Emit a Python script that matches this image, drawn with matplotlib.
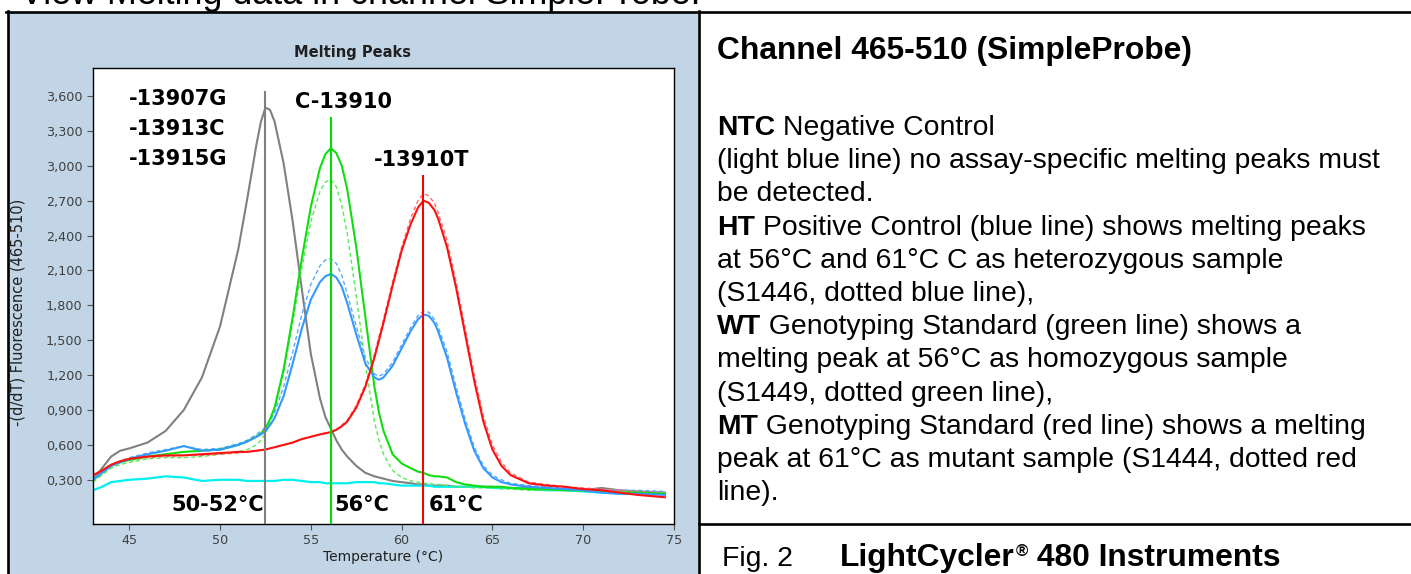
import matplotlib
matplotlib.use("Agg")
import matplotlib.pyplot as plt
from matplotlib.lines import Line2D
from matplotlib.patches import Rectangle
from matplotlib.ticker import FixedLocator, FuncFormatter

# ---------------- data ----------------
temps = [43.0, 43.5, 44.0, 44.5, 45.0, 46.0, 47.0, 48.0, 49.0, 50.0,
         51.0, 51.5, 52.0, 52.25, 52.5, 52.75, 53.0, 53.5, 54.0, 54.5,
         55.0, 55.5, 55.8, 56.1, 56.4, 56.7, 57.0, 57.5, 58.0, 58.5,
         58.75, 59.0, 59.5, 60.0, 60.5, 60.9, 61.2, 61.5, 61.8, 62.0,
         62.5, 63.0, 63.5, 64.0, 64.5, 65.0, 65.5, 66.0, 67.0, 68.0,
         69.0, 70.0, 71.0, 72.0, 73.0, 74.5]

gray_sample = [0.30, 0.40, 0.50, 0.55, 0.57, 0.62, 0.72, 0.90, 1.18, 1.62,
               2.28, 2.72, 3.18, 3.38, 3.50, 3.48, 3.38, 3.02, 2.52, 1.94,
               1.38, 1.00, 0.84, 0.74, 0.64, 0.56, 0.50, 0.42, 0.36, 0.33,
               0.32, 0.31, 0.29, 0.28, 0.27, 0.26, 0.26, 0.25, 0.25, 0.25,
               0.25, 0.24, 0.24, 0.24, 0.24, 0.24, 0.23, 0.23, 0.23, 0.22,
               0.22, 0.21, 0.23, 0.21, 0.20, 0.19]

wt_control = [0.30, 0.36, 0.42, 0.45, 0.47, 0.50, 0.52, 0.54, 0.55, 0.56,
              0.60, 0.63, 0.67, 0.70, 0.74, 0.82, 0.92, 1.25, 1.70, 2.20,
              2.65, 2.98, 3.10, 3.15, 3.11, 3.00, 2.80, 2.30, 1.70, 1.10,
              0.88, 0.72, 0.52, 0.44, 0.40, 0.37, 0.36, 0.34, 0.33, 0.33,
              0.32, 0.28, 0.26, 0.25, 0.24, 0.24, 0.24, 0.23, 0.22, 0.22,
              0.21, 0.21, 0.20, 0.19, 0.19, 0.18]

wt_sample = [0.28, 0.34, 0.40, 0.43, 0.45, 0.48, 0.49, 0.49, 0.50, 0.52,
             0.54, 0.56, 0.60, 0.64, 0.70, 0.79, 0.90, 1.22, 1.65, 2.12,
             2.52, 2.78, 2.86, 2.88, 2.82, 2.66, 2.42, 1.88, 1.30, 0.80,
             0.64, 0.52, 0.38, 0.32, 0.29, 0.28, 0.27, 0.27, 0.26, 0.26,
             0.25, 0.24, 0.24, 0.23, 0.23, 0.23, 0.22, 0.22, 0.21, 0.21,
             0.21, 0.20, 0.20, 0.20, 0.19, 0.19]

ht_control = [0.30, 0.36, 0.42, 0.45, 0.48, 0.52, 0.55, 0.59, 0.55, 0.56,
              0.60, 0.63, 0.67, 0.69, 0.72, 0.77, 0.83, 1.02, 1.30, 1.60,
              1.85, 2.00, 2.05, 2.07, 2.04, 1.96, 1.82, 1.55, 1.30, 1.18,
              1.16, 1.18, 1.28, 1.43, 1.58, 1.68, 1.72, 1.71, 1.65, 1.58,
              1.35, 1.05, 0.78, 0.55, 0.40, 0.32, 0.28, 0.26, 0.24, 0.23,
              0.22, 0.21, 0.19, 0.18, 0.18, 0.17]

ht_sample = [0.32, 0.37, 0.43, 0.46, 0.49, 0.53, 0.56, 0.59, 0.56, 0.57,
             0.61, 0.64, 0.69, 0.72, 0.75, 0.81, 0.88, 1.10, 1.40, 1.72,
             1.98, 2.14, 2.19, 2.20, 2.16, 2.06, 1.90, 1.62, 1.35, 1.21,
             1.19, 1.21, 1.31, 1.46, 1.61, 1.71, 1.75, 1.74, 1.68, 1.62,
             1.40, 1.10, 0.82, 0.58, 0.42, 0.34, 0.30, 0.27, 0.25, 0.24,
             0.23, 0.22, 0.21, 0.21, 0.21, 0.20]

mt_control = [0.34, 0.38, 0.43, 0.46, 0.48, 0.50, 0.51, 0.51, 0.52, 0.53,
              0.54, 0.54, 0.55, 0.555, 0.56, 0.57, 0.58, 0.60, 0.62, 0.65,
              0.67, 0.69, 0.70, 0.71, 0.73, 0.76, 0.80, 0.92, 1.10, 1.35,
              1.50, 1.65, 1.97, 2.27, 2.50, 2.64, 2.70, 2.68, 2.62, 2.55,
              2.30, 1.95, 1.55, 1.15, 0.80, 0.56, 0.42, 0.34, 0.27, 0.25,
              0.24, 0.22, 0.21, 0.19, 0.17, 0.15]

mt_sample = [0.33, 0.37, 0.42, 0.45, 0.47, 0.49, 0.50, 0.51, 0.51, 0.52,
             0.53, 0.54, 0.55, 0.555, 0.56, 0.57, 0.58, 0.60, 0.62, 0.65,
             0.67, 0.69, 0.70, 0.71, 0.73, 0.77, 0.81, 0.94, 1.12, 1.38,
             1.53, 1.68, 2.00, 2.30, 2.55, 2.70, 2.76, 2.74, 2.68, 2.60,
             2.36, 2.00, 1.60, 1.20, 0.85, 0.60, 0.45, 0.36, 0.28, 0.26,
             0.24, 0.23, 0.22, 0.21, 0.20, 0.19]

ntc = [0.21, 0.24, 0.28, 0.29, 0.30, 0.31, 0.33, 0.32, 0.29, 0.30,
       0.30, 0.29, 0.29, 0.29, 0.29, 0.29, 0.29, 0.30, 0.30, 0.29,
       0.28, 0.28, 0.27, 0.27, 0.27, 0.27, 0.27, 0.28, 0.28, 0.28,
       0.27, 0.27, 0.26, 0.25, 0.25, 0.25, 0.25, 0.25, 0.24, 0.24,
       0.24, 0.24, 0.24, 0.24, 0.24, 0.23, 0.23, 0.23, 0.22, 0.21,
       0.21, 0.20, 0.19, 0.18, 0.18, 0.18]

peak_temps = [52.5, 56.1, 61.2]
peak_line_tops = [3.63, 3.41, 2.91]
peak_labels = ["50-52°C", "56°C", "61°C"]

y_ticks = [0.3, 0.6, 0.9, 1.2, 1.5, 1.8, 2.1, 2.4, 2.7, 3.0, 3.3, 3.6]
x_ticks = [45, 50, 55, 60, 65, 70, 75]

# ---------------- figure ----------------
W, H = 1411, 574
fig = plt.figure(figsize=(W / 100, H / 100), dpi=100, facecolor="white")


def fx(x):
    return x / W


def fy(y):
    return 1 - y / H


BLUE_BG = "#c1d5e6"
fig.add_artist(Rectangle((fx(8), 0), fx(698) - fx(8), fy(12), transform=fig.transFigure,
                         facecolor=BLUE_BG, edgecolor="none", zorder=0))

for (x0, y0, x1, y1) in [(6, 11.5, W, 11.5), (7.5, 11, 7.5, H), (699, 11, 699, H), (699, 524, W, 524)]:
    fig.add_artist(Line2D([fx(x0), fx(x1)], [fy(y0), fy(y1)], transform=fig.transFigure,
                          color="black", lw=1.9, zorder=5))

# heading cut off at the very top (as in the source page)
fig.text(fx(20), fy(4), "View Melting data in channel SimpleProbe:", family="Liberation Sans",
         fontsize=25.8, va="baseline", ha="left", color="black")

# ---------------- axes ----------------
ax = fig.add_axes([fx(93), fy(524), fx(674) - fx(93), fy(68) - fy(524)])
ax.set_facecolor("white")
ax.set_xlim(43.0, 75.0)
ax.set_ylim(-0.08, 3.84)

series = [
    (gray_sample, "#808080", "-", 1.5),
    (ntc, "#00f0f0", "-", 1.6),
    (wt_sample, "#55ee55", (0, (3, 2)), 1.0),
    (ht_sample, "#55aaff", (0, (3, 2)), 1.0),
    (mt_sample, "#ff7070", (0, (3, 2)), 1.0),
    (wt_control, "#11dd11", "-", 1.5),
    (ht_control, "#3399ff", "-", 1.5),
    (mt_control, "#ff1010", "-", 1.5),
]
for vals, col, ls, lw in series:
    ax.plot(temps, vals, color=col, linestyle=ls, lw=lw, solid_joinstyle="round")

line_cols = ["#808080", "#00dd00", "#ff0000"]
for t, top, c in zip(peak_temps, peak_line_tops, line_cols):
    ax.plot([t, t], [-0.08, top], color=c, lw=1.5, zorder=4)

bold_font = dict(family="DejaVu Sans", weight="bold", fontsize=15, color="black")
for i, lab in enumerate(["-13907G", "-13913C", "-13915G"]):
    ax.text(45.0, 3.57 - i * 0.255, lab, ha="left", va="center", **bold_font)
ax.text(56.8, 3.55, "C-13910", ha="center", va="center", **bold_font)
ax.text(61.1, 3.05, "-13910T", ha="center", va="center", **bold_font)
label_x = [49.85, 57.8, 63.0]
for lx, lab in zip(label_x, peak_labels):
    ax.text(lx, 0.08, lab, ha="center", va="center", **bold_font)

ax.xaxis.set_major_locator(FixedLocator(x_ticks))
ax.yaxis.set_major_locator(FixedLocator(y_ticks))
ax.yaxis.set_major_formatter(FuncFormatter(lambda v, p: f"{v:.3f}".replace(".", ",")))
ax.tick_params(axis="both", direction="out", length=4, width=0.8, color="#555555",
               labelcolor="#404040", labelsize=9.2)
for lab in ax.get_xticklabels() + ax.get_yticklabels():
    lab.set_family("DejaVu Sans")
for sp in ax.spines.values():
    sp.set_color("black")
    sp.set_linewidth(1.0)

ax.set_xlabel("Temperature (°C)", family="DejaVu Sans", fontsize=10, color="#202020", labelpad=2)
fig.text(fx(18), fy(312), "-(d/dT) Fluorescence (465-510)", rotation=90, ha="center", va="center",
         family="DejaVu Sans", fontsize=10.5, color="#202020")
fig.text(fx(352), fy(52), "Melting Peaks", ha="center", va="center", family="DejaVu Sans",
         weight="bold", fontsize=10.5, color="#202020")

# ---------------- right-hand description ----------------
RF = "Liberation Sans"
BODY = 20.4
fig.text(fx(717), fy(59), "Channel 465-510 (SimpleProbe)", family=RF, weight="bold",
         fontsize=22.9, va="baseline", ha="left")

lines = [
    ("NTC", " Negative Control"),
    ("", "(light blue line) no assay-specific melting peaks must"),
    ("", "be detected."),
    ("HT", " Positive Control (blue line) shows melting peaks"),
    ("", "at 56°C and 61°C C as heterozygous sample"),
    ("", "(S1446, dotted blue line),"),
    ("WT", " Genotyping Standard (green line) shows a"),
    ("", "melting peak at 56°C as homozygous sample"),
    ("", "(S1449, dotted green line),"),
    ("MT", " Genotyping Standard (red line) shows a melting"),
    ("", "peak at 61°C as mutant sample (S1444, dotted red"),
    ("", "line)."),
]
base0, step = 135, 33.2
for i, (b, r) in enumerate(lines):
    yb = fy(base0 + i * step)
    if b:
        tb = fig.text(fx(717), yb, b, family=RF, weight="bold", fontsize=BODY, va="baseline", ha="left")
        ax.annotate(r, xy=(1, 0), xycoords=tb, va="bottom", ha="left", family=RF,
                    fontsize=BODY, annotation_clip=False)
    else:
        fig.text(fx(717), yb, r, family=RF, fontsize=BODY, va="baseline", ha="left")

fig.text(fx(722), fy(566), "Fig. 2", family=RF, fontsize=BODY, va="baseline", ha="left")
t_lc = fig.text(fx(840), fy(566), "LightCycler", family=RF, weight="bold",
                fontsize=22.9, va="baseline", ha="left")
t_reg = ax.annotate("®", xy=(1, 1), xycoords=t_lc, xytext=(0.5, -1), textcoords="offset points",
                    va="top", ha="left", family=RF, weight="bold", fontsize=12,
                    annotation_clip=False)
ax.annotate(" 480 Instruments", xy=(1, 0), xycoords=(t_reg, t_lc), va="bottom", ha="left",
            family=RF, weight="bold", fontsize=22.9, annotation_clip=False)

fig.savefig("out.png", dpi=100, facecolor="white")
